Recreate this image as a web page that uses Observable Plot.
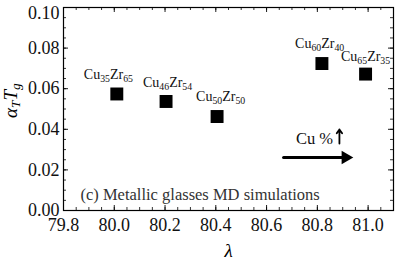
<!DOCTYPE html>
<html>
<head>
<meta charset="utf-8">
<script src="https://cdn.jsdelivr.net/npm/d3@7"></script>
<script src="https://cdn.jsdelivr.net/npm/@observablehq/plot@0.6"></script>
<style>
  html, body { margin: 0; padding: 0; background: #fff; }
  svg, svg text, svg tspan { font-family: "Liberation Serif", serif !important; }
</style>
</head>
<body>
<div id="chart"></div>
<script>
// ---- data ----
const lambda = [80.01, 80.204, 80.405, 80.818, 80.99];
const alphaTg = [0.0574, 0.0537, 0.0463, 0.0724, 0.0672];
const cuPct = [35, 46, 50, 60, 65];
const zrPct = [65, 54, 50, 40, 35];
const labelLambda = [79.977, 80.21, 80.419, 80.809, 80.99];
const labelAlpha = [0.0670, 0.0631, 0.0562, 0.0823, 0.0759];

const xMajorTicks = [79.8, 80.0, 80.2, 80.4, 80.6, 80.8, 81.0];
const yMajorTicks = [0.00, 0.02, 0.04, 0.06, 0.08, 0.10];
const xMinorTicks = d3.range(0, 27).map(i => 79.8 + i * 0.05);
const yMinorTicks = d3.range(0, 21).map(i => i * 0.005);

const panelText = ["(c) Metallic glasses MD simulations"];
const panelLambda = [79.867];
const panelAlpha = [0.0079];

const trendLambda = [80.667, 80.911];
const trendAlpha = [0.0261, 0.0261];
const cuText = ["Cu %"];
const cuTextLambda = [80.789];
const cuTextAlpha = [0.0355];
const upLambda = [80.887];
const upAlpha1 = [0.0330];
const upAlpha2 = [0.0399];

const labels = cuPct.map((c, i) => `Cu_{${c}}Zr_{${zrPct[i]}}`);
const pts = lambda.map((l, i) => ({l, a: alphaTg[i], label: labels[i], lx: labelLambda[i], ly: labelAlpha[i]}));

const W = 395, H = 260;
const mL = 63, mR = 2, mT = 7, mB = 50;
const plotH = H - mT - mB, plotW = W - mL - mR;
const major = 5, minor = 3;
const FF = "Liberation Serif";

const plot = Plot.plot({
  width: W, height: H,
  marginLeft: mL, marginRight: mR, marginTop: mT, marginBottom: mB,
  style: {fontFamily: FF, fontSize: "18px", background: "#fff", color: "#000"},
  x: {domain: [79.8, 81.1]},
  y: {domain: [0, 0.1]},
  marks: [
    // tick labels
    Plot.axisX({ticks: xMajorTicks, tickSize: 0, tickPadding: 8, tickFormat: d => d.toFixed(1), fontSize: 18, fontFamily: FF, fill: "#111", label: null}),
    Plot.axisY({ticks: yMajorTicks.slice(0, -1), tickSize: 0, tickPadding: 4, tickFormat: d => d.toFixed(2), fontSize: 18, fontFamily: FF, fill: "#111", label: null}),
    Plot.axisY({ticks: yMajorTicks.slice(-1), tickSize: 0, tickPadding: 4, dy: 6, tickFormat: d => d.toFixed(2), fontSize: 18, fontFamily: FF, fill: "#111", label: null}),
    // inward ticks on all four sides
    Plot.tickX(xMinorTicks, {x: d => d, insetTop: plotH - minor, strokeWidth: 0.8}),
    Plot.tickX(xMinorTicks, {x: d => d, insetBottom: plotH - minor, strokeWidth: 0.8}),
    Plot.tickX(xMajorTicks, {x: d => d, insetTop: plotH - major, strokeWidth: 0.9}),
    Plot.tickX(xMajorTicks, {x: d => d, insetBottom: plotH - major, strokeWidth: 0.9}),
    Plot.tickY(yMinorTicks, {y: d => d, insetRight: plotW - minor, strokeWidth: 0.8}),
    Plot.tickY(yMinorTicks, {y: d => d, insetLeft: plotW - minor, strokeWidth: 0.8}),
    Plot.tickY(yMajorTicks, {y: d => d, insetRight: plotW - major, strokeWidth: 0.9}),
    Plot.tickY(yMajorTicks, {y: d => d, insetLeft: plotW - major, strokeWidth: 0.9}),
    Plot.frame({stroke: "#000", strokeWidth: 1.2}),
    // data
    Plot.dot(pts, {x: "l", y: "a", symbol: "square", r: 7.3, fill: "#000", stroke: "none"}),
    Plot.text(pts, {x: "lx", y: "ly", text: "label", fontSize: 14, fontFamily: FF, fill: "#111"}),
    // panel text
    Plot.text(panelText, {x: () => panelLambda[0], y: () => panelAlpha[0], text: d => d, textAnchor: "start", fontSize: 16.5, fontFamily: FF, fill: "#333"}),
    // trend arrow
    Plot.line(trendLambda.map((l, i) => ({l, a: trendAlpha[i]})), {x: "l", y: "a", stroke: "#000", strokeWidth: 3}),
    Plot.dot([0], {x: () => trendLambda[1], y: () => trendAlpha[1], symbol: "triangle", rotate: 90, r: 5, fill: "#000", stroke: "none"}),
    Plot.text(cuText, {x: () => cuTextLambda[0], y: () => cuTextAlpha[0], text: d => d, fontSize: 16.5, fontFamily: FF, fill: "#111"}),
    Plot.arrow([0], {x1: () => upLambda[0], x2: () => upLambda[0], y1: () => upAlpha1[0], y2: () => upAlpha2[0], stroke: "#000", strokeWidth: 1.8, headLength: 6, headAngle: 70}),
    // axis titles
    Plot.text(["λ"], {frameAnchor: "bottom", dy: 46, text: d => d, fontSize: 19, fontFamily: FF, fontStyle: "italic"}),
    Plot.text(["α_{T}T_{g}"], {frameAnchor: "left", dx: -53, dy: 9, rotate: -90, text: d => d, fontSize: 19, fontFamily: FF, fontStyle: "italic"})
  ]
});

// turn _{..} into subscript tspans
d3.select(plot).selectAll("text").each(function() {
  const t = this.textContent;
  if (!t.includes("_{")) return;
  const parts = t.split(/_\{([^}]*)\}/);
  this.textContent = "";
  parts.forEach((p, i) => {
    if (!p) return;
    const ts = document.createElementNS("http://www.w3.org/2000/svg", "tspan");
    ts.textContent = p;
    if (i % 2 === 1) {
      ts.setAttribute("font-size", "70%");
      ts.setAttribute("baseline-shift", "-25%");
    }
    this.appendChild(ts);
  });
});

document.getElementById("chart").appendChild(plot);
</script>
</body>
</html>
